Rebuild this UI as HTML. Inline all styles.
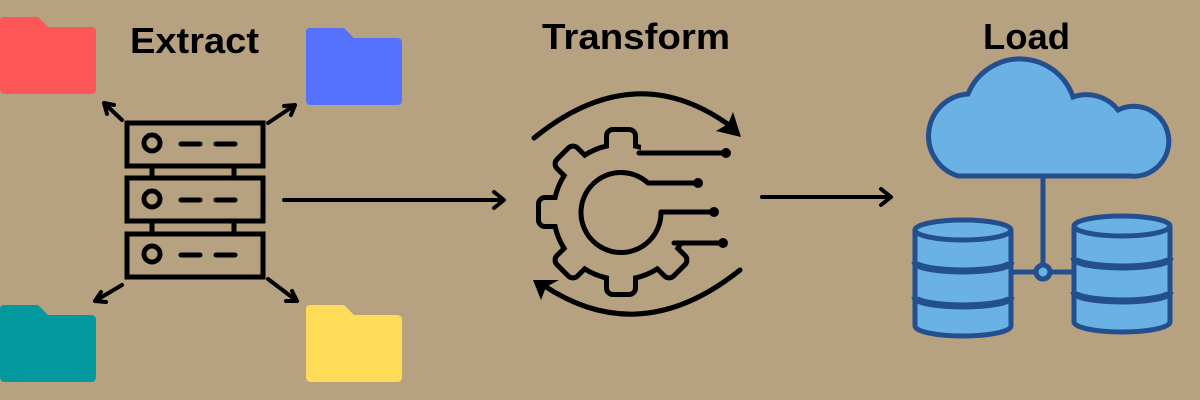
<!DOCTYPE html>
<html><head><meta charset="utf-8"><style>
html,body{margin:0;padding:0;background:#b6a181;}
svg{display:block}
text{font-family:"Liberation Sans",sans-serif;font-weight:bold;font-size:36px;fill:#000}
</style></head><body>
<svg width="1200" height="400" viewBox="0 0 1200 400" xmlns="http://www.w3.org/2000/svg">
<rect width="1200" height="400" fill="#b6a181"/>
<defs>
<path id="fold" d="M4,0 H38 L48,10 H91 Q96,10 96,15 V72 Q96,77 91,77 H5 Q0,77 0,72 V4 Q0,0 4,0 Z"/>
</defs>
<use href="#fold" x="0" y="17" fill="#fe5656"/>
<use href="#fold" x="306" y="28" fill="#5472fe"/>
<use href="#fold" x="0" y="305" fill="#03989e"/>
<use href="#fold" x="306" y="305" fill="#ffdc57"/>
<text x="130" y="53" textLength="129" lengthAdjust="spacingAndGlyphs">Extract</text>
<text x="542" y="49" textLength="188" lengthAdjust="spacingAndGlyphs">Transform</text>
<text x="983" y="49" textLength="87" lengthAdjust="spacingAndGlyphs">Load</text>
<g fill="none" stroke="#000" stroke-width="5" stroke-linecap="round">
<rect x="127" y="123" width="136" height="43"/>
<rect x="127" y="178" width="136" height="43"/>
<rect x="127" y="234" width="136" height="43"/>
<line x1="152" y1="166" x2="152" y2="178"/><line x1="234" y1="166" x2="234" y2="178"/>
<line x1="152" y1="221" x2="152" y2="234"/><line x1="234" y1="221" x2="234" y2="234"/>
<circle cx="152" cy="143" r="8"/><circle cx="152" cy="199" r="8"/><circle cx="152" cy="254" r="8"/>
<path d="M181,144 H200 M216,144 H235 M181,200 H200 M216,200 H235 M181,255 H200 M216,255 H235"/>
</g>
<g stroke="#000" stroke-width="4" fill="none" stroke-linecap="round" stroke-linejoin="round">
<path d="M122,120 L104,103 M104,103 L107,114 M104,103 L114,105"/>
<path d="M268,123 L295,105 M295,105 L284,106 M295,105 L291,115"/>
<path d="M122,285 L95,301 M95,301 L101,292 M95,301 L106,302"/>
<path d="M268,279 L297,301 M297,301 L292,291 M297,301 L286,301"/>
<path d="M284,200 H503 M494,192 L504,200 L494,208"/>
<path d="M762,197 H890 M881,189 L891,197 L881,205"/>
</g>
<g transform="translate(621,212)">
<g stroke="#000" stroke-width="10" fill="none" stroke-linejoin="round">
<circle r="65"/>
<rect x="-12" y="-80" width="24" height="22" rx="4"/>
<rect x="-12" y="-80" width="24" height="22" rx="4" transform="rotate(45)"/>
<rect x="-12" y="-80" width="24" height="22" rx="4" transform="rotate(90)"/>
<rect x="-12" y="-80" width="24" height="22" rx="4" transform="rotate(135)"/>
<rect x="-12" y="-80" width="24" height="22" rx="4" transform="rotate(180)"/>
<rect x="-12" y="-80" width="24" height="22" rx="4" transform="rotate(225)"/>
<rect x="-12" y="-80" width="24" height="22" rx="4" transform="rotate(270)"/>
<rect x="-12" y="-80" width="24" height="22" rx="4" transform="rotate(315)"/>
</g>
<g fill="#b6a181" stroke="none">
<circle r="65"/>
<rect x="-12" y="-80" width="24" height="22" rx="4"/>
<rect x="-12" y="-80" width="24" height="22" rx="4" transform="rotate(45)"/>
<rect x="-12" y="-80" width="24" height="22" rx="4" transform="rotate(90)"/>
<rect x="-12" y="-80" width="24" height="22" rx="4" transform="rotate(135)"/>
<rect x="-12" y="-80" width="24" height="22" rx="4" transform="rotate(180)"/>
<rect x="-12" y="-80" width="24" height="22" rx="4" transform="rotate(225)"/>
<rect x="-12" y="-80" width="24" height="22" rx="4" transform="rotate(270)"/>
<rect x="-12" y="-80" width="24" height="22" rx="4" transform="rotate(315)"/>
</g>
</g>
<rect x="641" y="126" width="65" height="115" fill="#b6a181"/>
<g stroke="#000" stroke-width="5" fill="none" stroke-linecap="round">
<path d="M648,183 A40,40 0 1,0 661,212"/>
<path d="M639,153 H726 M648,183 H698 M661,212 H714 M674,243 H723"/>
<path d="M534,138 Q636,55 733,128"/>
<path d="M740,270 Q640,350 543,285"/>
</g>
<g fill="#000">
<circle cx="726" cy="153" r="5"/><circle cx="698" cy="183" r="5"/>
<circle cx="714" cy="212" r="5"/><circle cx="723" cy="243" r="5"/>
<path d="M741,137 L716,131 L728,124 L733,112 Z"/>
<path d="M533,280 L559,280 L546,287 L541,300 Z"/>
</g>
<g stroke="#234f8e" stroke-width="5" fill="#6ab2e3">
<path d="M958,176 A42,42 0 0,1 968,94 A56,56 0 0,1 1073,97 A40,40 0 0,1 1118,110 A35,35 0 1,1 1130,176 Z"/>
<line x1="1043" y1="177" x2="1043" y2="272"/>
<line x1="1012" y1="272" x2="1073" y2="272"/>
<path d="M915,230 V326 A48,10 0 0,0 1011,326 V230"/>
<path d="M915,262 A48,9 0 0,0 1011,262 M915,297 A48,9 0 0,0 1011,297" fill="none" stroke-width="7"/>
<ellipse cx="963" cy="230" rx="48" ry="10"/>
<path d="M1074,226 V322 A48,10 0 0,0 1170,322 V226"/>
<path d="M1074,258 A48,9 0 0,0 1170,258 M1074,292 A48,9 0 0,0 1170,292" fill="none" stroke-width="7"/>
<ellipse cx="1122" cy="226" rx="48" ry="10"/>
<circle cx="1043" cy="272" r="7"/>
</g>
</svg>
</body></html>
